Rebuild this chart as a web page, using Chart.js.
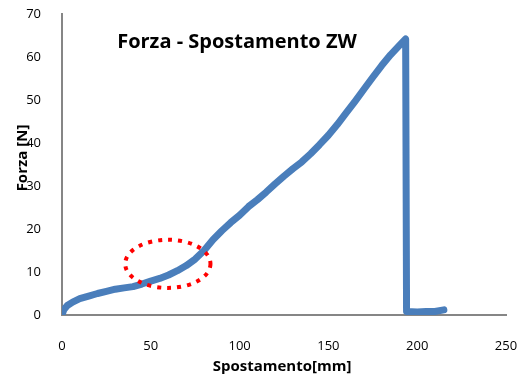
<!DOCTYPE html>
<html>
<head>
<meta charset="utf-8">
<script src="https://cdn.jsdelivr.net/npm/chart.js@4"></script>
<style>
  html, body { margin: 0; padding: 0; background: #fff; }
  #wrap { width: 523px; height: 380px; }
</style>
</head>
<body>
<div id="wrap"><canvas id="forza"></canvas></div>
<script>
// spostamento [mm]
const spostamento = [0, 1, 3, 6, 10, 15, 20, 25, 30, 35, 40, 45, 50, 55, 60, 65, 70, 75, 80, 85,
  90, 95, 100, 105, 110, 115, 120, 125, 130, 135, 140, 145, 150, 155, 160, 165, 170, 175, 180,
  185, 190, 193.5, 194, 200, 205, 210, 215]
// forza [N]
const forza = [0, 1.2, 2.2, 3, 3.8, 4.4, 5, 5.5, 6, 6.3, 6.6, 7.2, 7.9, 8.5, 9.3, 10.3, 11.5, 13, 15, 17.5,
  19.6, 21.5, 23.2, 25.2, 26.8, 28.6, 30.5, 32.3, 34, 35.6, 37.5, 39.6, 41.8, 44.3, 47, 49.7, 52.5, 55.3, 58,
  60.5, 62.7, 64.2, 0.8, 0.7, 0.8, 0.8, 1.2]
const xTicks = [0, 50, 100, 150, 200, 250]
const yTicks = [0, 10, 20, 30, 40, 50, 60, 70]
// zona evidenziata (centro e semiassi in unita dei dati)
const zona = { x: 59.6, y: 11.9, rx: 24, ry: 5.6 }

const titolo = 'Forza - Spostamento ZW'
const titoloX = 'Spostamento[mm]'
const titoloY = 'Forza [N]'

const axisColor = '#868686'
const fontTick = { family: 'Open Sans', size: 13 }

const testi = {
  id: 'testi',
  afterDraw(chart) {
    const ctx = chart.ctx
    const sx = chart.scales.x, sy = chart.scales.y
    ctx.save()
    // ellisse rossa tratteggiata
    ctx.beginPath()
    ctx.ellipse(sx.getPixelForValue(zona.x), sy.getPixelForValue(zona.y),
      Math.abs(sx.getPixelForValue(zona.x + zona.rx) - sx.getPixelForValue(zona.x)),
      Math.abs(sy.getPixelForValue(zona.y + zona.ry) - sy.getPixelForValue(zona.y)),
      0, 0, Math.PI * 2)
    ctx.strokeStyle = '#ff0000'
    ctx.lineWidth = 4
    ctx.setLineDash([4, 6])
    ctx.stroke()
    ctx.setLineDash([])

    ctx.fillStyle = '#000'
    ctx.textAlign = 'center'
    ctx.textBaseline = 'middle'
    ctx.font = 'bold 20px "Open Sans"'
    ctx.fillText(titolo, 237, 42)
    ctx.font = 'bold 15px "Open Sans"'
    ctx.fillText(titoloX, 282, 367)
    ctx.translate(23, 158)
    ctx.rotate(-Math.PI / 2)
    ctx.fillText(titoloY, 0, 0)
    ctx.restore()
  }
}

new Chart(document.getElementById('forza').getContext('2d'), {
  type: 'scatter',
  data: {
    datasets: [{
      data: spostamento.map((x, i) => ({ x: x, y: forza[i] })),
      showLine: true,
      borderColor: '#4A7EBB',
      borderWidth: 7,
      borderCapStyle: 'round',
      borderJoinStyle: 'round',
      pointRadius: 0,
      tension: 0
    }]
  },
  options: {
    responsive: true,
    maintainAspectRatio: false,
    animation: false,
    layout: { padding: { top: 14, right: 17, left: 0, bottom: 0 } },
    plugins: { legend: { display: false }, tooltip: { enabled: false } },
    scales: {
      x: {
        type: 'linear',
        min: 0, max: 250,
        afterBuildTicks: s => { s.ticks = xTicks.map(v => ({ value: v })) },
        afterFit: s => { s.height = 65; s.paddingLeft = 0; s.paddingRight = 0 },
        grid: { display: false, drawTicks: true, tickLength: 5, tickColor: axisColor },
        border: { color: axisColor, width: 2 },
        ticks: { color: '#000', font: fontTick, padding: 18, maxRotation: 0 }
      },
      y: {
        type: 'linear',
        min: 0, max: 70,
        afterBuildTicks: s => { s.ticks = yTicks.map(v => ({ value: v })) },
        afterFit: s => { s.width = 62; s.paddingTop = 0; s.paddingBottom = 0 },
        grid: { display: false, drawTicks: true, tickLength: 5, tickColor: axisColor },
        border: { color: axisColor, width: 2 },
        ticks: { color: '#000', font: fontTick, padding: 16 }
      }
    }
  },
  plugins: [testi]
})
</script>
</body>
</html>
